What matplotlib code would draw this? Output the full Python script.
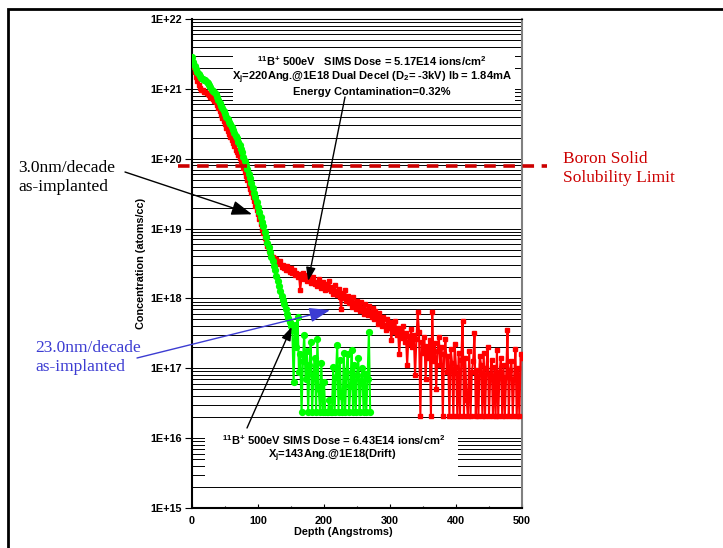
# boron SIMS profiles: 500eV B11+ decel vs drift

import numpy as np
import matplotlib
matplotlib.use("Agg")
import matplotlib.pyplot as plt
from matplotlib.patches import Rectangle
from matplotlib.ticker import FixedLocator, LogLocator, NullFormatter

plt.rcParams['font.family'] = ['Liberation Sans', 'DejaVu Sans']
plt.rcParams['mathtext.fontset'] = 'custom'
plt.rcParams['mathtext.rm'] = 'Liberation Sans:bold'
plt.rcParams['mathtext.default'] = 'rm'

# depth grid of the SIMS measurement (Angstroms, 2 A step)
depth_decel = np.arange(0, 501, 2)
depth_drift = np.arange(0, 271, 2)

# log10 of concentration (atoms/cc)
decel_log = [
    21.40, 21.32, 21.24, 21.17, 21.11, 21.05, 21.01, 20.99, 20.98, 20.96,
    20.95, 20.94, 20.93, 20.91, 20.89, 20.87, 20.85, 20.83, 20.81, 20.77,
    20.72, 20.68, 20.63, 20.58, 20.54, 20.49, 20.44, 20.39, 20.35, 20.31,
    20.27, 20.22, 20.18, 20.13, 20.09, 20.05, 20.01, 19.97, 19.93, 19.87,
    19.81, 19.75, 19.69, 19.63, 19.57, 19.51, 19.45, 19.39, 19.33, 19.27,
    19.21, 19.14, 19.07, 19.00, 18.93, 18.87, 18.81, 18.75, 18.69, 18.65,
    18.62, 18.60, 18.58, 18.55, 18.57, 18.52, 18.50, 18.53, 18.45, 18.48,
    18.44, 18.40, 18.46, 18.41, 18.38, 18.43, 18.36, 18.40, 18.33, 18.37,
    18.30, 18.35, 18.12, 18.31, 18.36, 18.28, 18.33, 18.25, 18.30, 18.34,
    18.22, 18.27, 18.31, 18.20, 18.24, 18.18, 18.28, 18.21, 18.15, 18.23,
    18.17, 18.12, 18.20, 18.14, 18.25, 18.10, 18.16, 18.06, 18.19, 18.11,
    18.05, 18.13, 18.02, 17.85, 18.08, 18.00, 18.12, 17.96, 18.04, 17.93,
    17.99, 17.88, 18.02, 17.94, 17.85, 17.97, 17.90, 17.82, 17.95, 17.87,
    17.78, 17.92, 17.84, 17.76, 17.89, 17.80, 17.73, 17.86, 17.70, 17.82,
    17.75, 17.64, 17.79, 17.68, 17.60, 17.74, 17.62, 17.55, 17.70, 17.58,
    17.66, 17.40, 17.63, 17.52, 17.68, 17.47, 17.58, 17.20, 17.55, 17.44,
    17.60, 17.38, 17.50, 17.05, 17.46, 17.35, 17.56, 17.30, 17.48, 16.90,
    17.42, 17.80, 17.52, 16.32, 17.38, 17.22, 17.45, 16.85, 17.32, 17.15,
    17.40, 16.32, 17.80, 17.10, 17.36, 16.70, 17.25, 17.45, 17.05, 17.30,
    16.32, 17.20, 17.42, 16.95, 17.18, 16.32, 17.28, 17.08, 16.32, 17.35,
    17.02, 16.32, 17.22, 16.32, 17.12, 17.68, 16.32, 17.15, 16.55, 16.32,
    17.25, 16.32, 16.95, 17.10, 17.50, 16.32, 16.98, 16.32, 17.18, 17.05,
    16.32, 17.22, 16.32, 17.00, 17.30, 16.32, 16.92, 17.12, 16.32, 17.02,
    16.32, 17.26, 16.32, 16.95, 17.15, 16.32, 17.05, 16.32, 16.88, 17.55,
    16.32, 16.98, 17.10, 16.32, 16.85, 17.28, 16.32, 17.00, 16.32, 17.20,
    17.15,
]

drift_log = [
    21.46, 21.38, 21.33, 21.28, 21.24, 21.21, 21.18, 21.16, 21.14, 21.13,
    21.12, 21.10, 21.08, 21.05, 21.02, 20.99, 20.97, 20.95, 20.92, 20.88,
    20.84, 20.80, 20.76, 20.72, 20.68, 20.64, 20.60, 20.57, 20.53, 20.49,
    20.45, 20.41, 20.37, 20.33, 20.29, 20.24, 20.19, 20.14, 20.09, 20.03,
    19.97, 19.91, 19.85, 19.78, 19.72, 19.65, 19.58, 19.51, 19.45, 19.38,
    19.31, 19.24, 19.17, 19.10, 19.03, 18.95, 18.88, 18.80, 18.73, 18.66,
    18.59, 18.54, 18.47, 18.40, 18.32, 18.25, 18.18, 18.10, 18.03, 17.98,
    17.92, 17.85, 17.78, 17.72, 17.66, 17.60, 17.55, 16.80, 17.62, 17.30,
    17.73, 16.95, 17.20, 16.37, 17.10, 17.48, 16.85, 17.25, 16.37, 17.05,
    17.38, 16.37, 16.90, 17.15, 16.37, 17.42, 16.70, 16.37, 17.08, 16.37,
    16.80, 16.37, 16.37, 16.37, 16.55, 16.37, 16.37, 17.02, 16.37, 16.88,
    17.33, 16.37, 17.12, 16.60, 16.37, 17.22, 16.37, 16.95, 17.20, 16.37,
    16.75, 17.26, 16.37, 17.05, 16.37, 16.90, 17.15, 16.37, 16.82, 17.00,
    16.37, 16.92, 16.37, 16.85, 17.52, 16.37,
]

solubility_limit = 7.9e19
y_ticks = [1e15, 1e16, 1e17, 1e18, 1e19, 1e20, 1e21, 1e22]
y_labels = ["1E+15", "1E+16", "1E+17", "1E+18", "1E+19", "1E+20", "1E+21", "1E+22"]
x_ticks = [0, 100, 200, 300, 400, 500]

W, H = 723, 548
fig = plt.figure(figsize=(W / 100, H / 100), dpi=100)
ax = fig.add_axes([192 / W, 1 - 508 / H, 330 / W, 489 / H])

ax.set_yscale('log')
ax.set_xlim(0, 500)
ax.set_ylim(1e15, 1e22)

# grid on every decade and sub-decade
ax.yaxis.set_major_locator(FixedLocator(y_ticks))
ax.set_yticklabels(y_labels)
ax.yaxis.set_minor_locator(LogLocator(base=10, subs=np.arange(2, 10)))
ax.yaxis.set_minor_formatter(NullFormatter())
ax.set_axisbelow(True)
ax.yaxis.grid(True, which='both', color='black', lw=0.7)
ax.tick_params(axis='y', which='major', direction='out', length=5, width=0.8, labelsize=7.8, pad=2)
ax.tick_params(axis='y', which='minor', length=0)
ax.set_xticks(x_ticks)
ax.set_xticks([50, 150, 250, 350, 450], minor=True)
ax.tick_params(axis='x', which='major', direction='in', length=3, width=0.8, labelsize=7.8, pad=6)
ax.tick_params(axis='x', which='minor', direction='in', length=1.5, width=0.8)
for lab in ax.get_xticklabels() + ax.get_yticklabels():
    lab.set_fontweight('bold')

ax.spines['left'].set_linewidth(1.5)
ax.spines['bottom'].set_linewidth(1.5)
ax.spines['right'].set_color('#808080')
ax.spines['right'].set_linewidth(1.5)
ax.spines['top'].set_linewidth(0.8)

ax.set_ylabel("Concentration (atoms/cc)", fontsize=7.8, fontweight='bold')
ax.yaxis.set_label_coords((146 - 192) / 330, 0.5)
ax.set_xlabel("Depth (Angstroms)", fontsize=7.8, fontweight='bold')
ax.xaxis.set_label_coords((343 - 192) / 330, (508 - 527) / 489)

# white boxes behind the two captions
def px_box(x0, y0, x1, y1):
    # figure pixel box (top-left origin) -> rectangle
    return Rectangle((x0 / W, 1 - y1 / H), (x1 - x0) / W, (y1 - y0) / H,
                     transform=fig.transFigure, fc='white', ec='none', zorder=1.5)

ax.add_patch(px_box(233, 50, 515, 101))
ax.add_patch(px_box(205, 428, 458, 479))

ax.plot(depth_decel, 10 ** np.array(decel_log), color='#ff0000', lw=1.5,
        marker='s', ms=3, zorder=3)
ax.plot(depth_drift, 10 ** np.array(drift_log), color='#00ff00', lw=1.5,
        marker='o', ms=4.2, zorder=4)

# solubility limit, runs past both sides of the plot
ax.axhline(solubility_limit, xmin=-0.042, xmax=1.076, color='#cc0000', lw=2.6,
           dashes=(3.2, 2.1), clip_on=False, zorder=5)

# captions (baseline positions in figure pixels)
def caption(x_px, y_px, s):
    ax.text((x_px - 192) / 330, 1 - (y_px - 19) / 489, s, transform=ax.transAxes,
            ha='center', va='baseline', fontsize=8, fontweight='bold', zorder=6)

caption(372, 66, r"$^{11}$B$^{+}$ 500eV   SIMS Dose = 5.17E14 ions/cm$^{2}$")
caption(372, 80, r"X$_{j}$=220Ang.@1E18 Dual Decel (D$_{2}$= -3kV) Ib = 1.84mA")
caption(372, 95, "Energy Contamination=0.32%")
caption(334, 445, r"$^{11}$B$^{+}$ 500eV SIMS Dose = 6.43E14 ions/cm$^{2}$")
caption(332, 458, r"X$_{j}$=143Ang.@1E18(Drift)")

serif = ['Liberation Serif', 'DejaVu Serif']
fig.text(18 / W, 1 - 160 / H, "3.0nm/decade\nas-implanted", family=serif,
         fontsize=12.5, va='top', ha='left', linespacing=1.25)
fig.text(35 / W, 1 - 340 / H, "23.0nm/decade\nas-implanted", family=serif,
         fontsize=12.5, va='top', ha='left', linespacing=1.25, color='#3c3cd2')
fig.text(563 / W, 1 - 151 / H, "Boron Solid\nSolubility Limit", family=serif,
         fontsize=12.5, va='top', ha='left', linespacing=1.25, color='#cc0000')

def arrow(tail_px, head, color, scale):
    ax.annotate('', xy=head, xycoords='data',
                xytext=(tail_px[0], H - tail_px[1]), textcoords='figure pixels',
                arrowprops=dict(arrowstyle='-|>,head_length=0.9,head_width=0.32',
                                color=color, lw=1.0, mutation_scale=scale,
                                shrinkA=0, shrinkB=0),
                annotation_clip=False, zorder=7)

arrow((125, 172), (91, 1.6e19), 'black', 14)
arrow((137, 358), (209, 6.8e17), '#3c3cd2', 14)
arrow((345, 97), (176, 1.78e18), 'black', 9)
arrow((247, 428), (151, 3.9e17), 'black', 9)

# outer frame of the slide
fig.patches.append(Rectangle((8 / W, -0.2), 1.5, 1 - 9 / H + 0.2, transform=fig.transFigure,
                             fill=False, ec='black', lw=2, clip_on=False))

plt.savefig("out.png", dpi=100)
